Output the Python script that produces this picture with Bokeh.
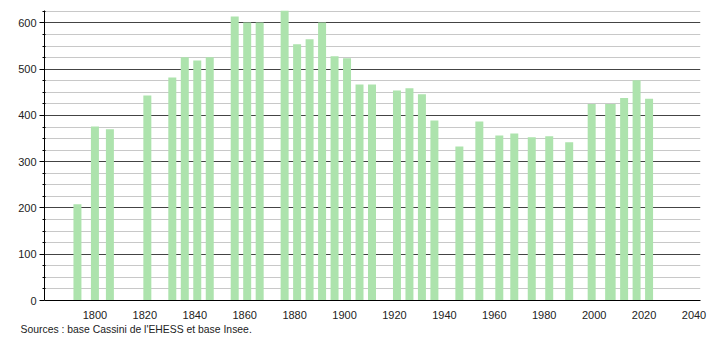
from bokeh.plotting import figure
from bokeh.models import FixedTicker, Range1d, Title, ColumnDataSource
from bokeh.embed import file_html
from bokeh.resources import INLINE

years = [1793, 1800, 1806, 1821, 1831, 1836, 1841, 1846, 1856, 1861, 1866,
         1876, 1881, 1886, 1891, 1896, 1901, 1906, 1911, 1921, 1926, 1931,
         1936, 1946, 1954, 1962, 1968, 1975, 1982, 1990, 1999, 2006, 2007,
         2012, 2017, 2022]
population = [208, 376, 370, 443, 482, 526, 519, 526, 614, 601, 601,
              627, 554, 565, 601, 528, 524, 467, 467, 454, 459, 446,
              389, 333, 387, 357, 361, 353, 355, 342, 425, 425, 425,
              438, 476, 436]
x_ticks = [1800, 1820, 1840, 1860, 1880, 1900, 1920, 1940, 1960, 1980, 2000, 2020, 2040]
y_ticks = [0, 100, 200, 300, 400, 500, 600]
y_minor = [25, 50, 75, 125, 150, 175, 225, 250, 275, 325, 350, 375,
           425, 450, 475, 525, 550, 575, 625]
source_text = "Sources : base Cassini de l'EHESS et base Insee."

FONT = "Liberation Sans"

p = figure(width=710, height=340, output_backend="svg", toolbar_location=None,
           x_range=Range1d(1779.8, 2042.6), y_range=Range1d(0, 627),
           min_border_left=44, min_border_right=10, min_border_top=10,
           min_border_bottom=40)
p.outline_line_color = None
p.background_fill_color = "white"
p.border_fill_color = "white"

src = ColumnDataSource(data=dict(x=years, top=population))
p.vbar(x="x", top="top", bottom=0, width=3.2, source=src,
       fill_color="#ade3ad", line_color=None)

# x axis
p.xaxis.ticker = FixedTicker(ticks=x_ticks)
p.xaxis.major_tick_line_color = None
p.xaxis.minor_tick_line_color = None
p.xaxis.axis_line_color = "black"
p.xaxis.major_label_text_font = FONT
p.xaxis.major_label_text_font_size = "11px"
p.xaxis.major_label_text_color = "#222222"
p.xaxis.major_label_standoff = 4
p.xgrid.grid_line_color = None

# y axis
yt = FixedTicker(ticks=y_ticks, minor_ticks=y_minor)
p.yaxis.ticker = yt
p.ygrid.ticker = yt
p.yaxis.axis_line_color = "black"
p.yaxis.major_tick_line_color = "black"
p.yaxis.major_tick_out = 5
p.yaxis.major_tick_in = 0
p.yaxis.minor_tick_line_color = "black"
p.yaxis.minor_tick_out = 2
p.yaxis.minor_tick_in = 1
p.yaxis.major_label_text_font = FONT
p.yaxis.major_label_text_font_size = "11px"
p.yaxis.major_label_text_color = "#222222"
p.yaxis.major_label_standoff = 3
p.ygrid.grid_line_color = "#444444"
p.ygrid.grid_line_width = 1
p.ygrid.minor_grid_line_color = "#c8c8c8"
p.ygrid.minor_grid_line_width = 1

t = Title(text=source_text, align="left", offset=-24, text_font=FONT,
          text_font_size="10.4px", text_font_style="normal",
          text_color="#222222", standoff=0)
p.add_layout(t, "below")

open("out.html", "w").write(file_html(p, INLINE))
